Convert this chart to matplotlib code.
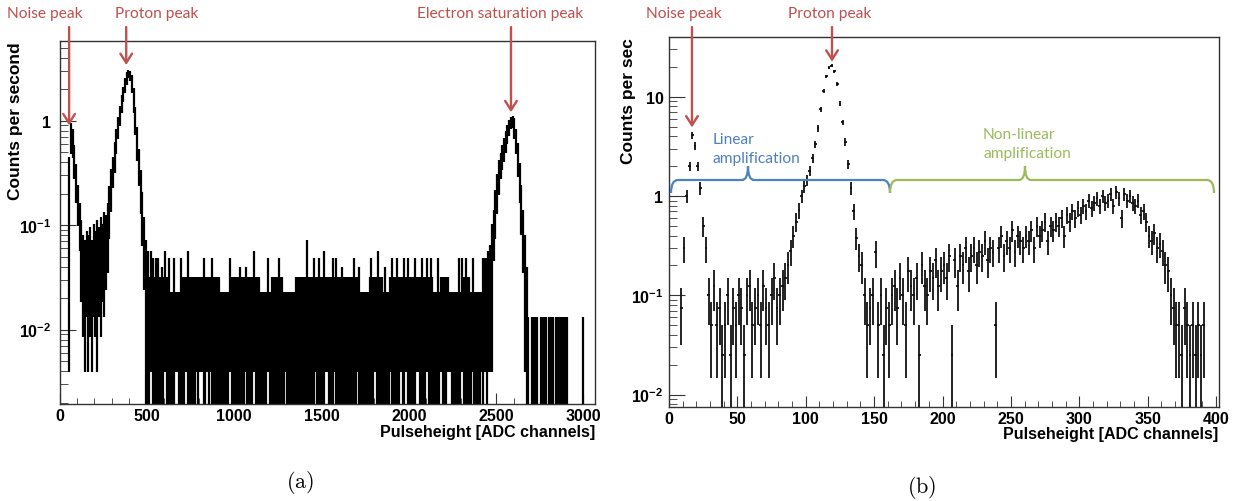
import numpy as np
import matplotlib
matplotlib.use('Agg')
import matplotlib.pyplot as plt
from matplotlib.path import Path
from matplotlib.patches import PathPatch
from matplotlib.ticker import MultipleLocator, LogLocator, FuncFormatter, NullFormatter

plt.rcParams['font.family'] = ['Liberation Sans', 'DejaVu Sans']
plt.rcParams['font.weight'] = 'bold'
plt.rcParams['mathtext.fontset'] = 'custom'
plt.rcParams['mathtext.rm'] = 'Liberation Sans:bold'
plt.rcParams['mathtext.it'] = 'Liberation Sans:bold'
plt.rcParams['mathtext.bf'] = 'Liberation Sans:bold'

W, H = 1243, 502

# ---------------- data ----------------
# (a) 150 s run, 10-channel columns: lowest / highest bin count in each column
a_width = 10
a_time = 150.0
a_lo = [0, 0, 0, 0, 0, 2, 80, 75, 48, 30,
        19, 12, 5, 3, 2, 4, 2, 3, 2, 4,
        3, 2, 4, 3, 5, 4, 6, 8, 15, 25,
        40, 55, 80, 110, 145, 190, 240, 290, 350, 400,
        380, 290, 190, 120, 70, 42, 24, 13, 6, 1,
        1, 1, 2, 1, 1, 1, 1, 1, 1, 1,
        2, 1, 1, 1, 1, 1, 2, 2, 1, 1,
        1, 1, 2, 1, 1, 1, 1, 1, 2, 1,
        2, 2, 1, 1, 2, 1, 2, 1, 1, 1,
        1, 1, 1, 1, 1, 1, 1, 2, 1, 1,
        1, 1, 1, 1, 1, 1, 2, 1, 1, 1,
        1, 2, 1, 1, 1, 1, 1, 1, 1, 2,
        1, 1, 1, 1, 1, 1, 1, 1, 1, 2,
        1, 1, 1, 1, 1, 1, 1, 1, 1, 1,
        1, 1, 1, 1, 1, 1, 2, 1, 1, 1,
        1, 1, 2, 2, 1, 1, 1, 2, 1, 1,
        1, 1, 1, 1, 1, 1, 1, 1, 1, 1,
        2, 1, 1, 1, 1, 1, 1, 1, 1, 1,
        2, 1, 1, 1, 1, 1, 1, 1, 1, 2,
        1, 1, 1, 1, 1, 2, 1, 1, 2, 1,
        1, 1, 1, 1, 2, 2, 1, 1, 1, 1,
        2, 1, 1, 1, 1, 1, 1, 1, 2, 1,
        1, 1, 2, 2, 1, 1, 1, 1, 1, 1,
        2, 1, 1, 1, 1, 1, 2, 1, 1, 1,
        1, 2, 1, 2, 1, 2, 2, 2, 10, 15,
        24, 35, 48, 58, 68, 82, 100, 118, 135, 140,
        110, 80, 50, 30, 16, 8, 2, 1, 1, 0,
        1, 1, 1, 1, 0, 1, 1, 1, 1, 0,
        1, 1, 1, 0, 1, 1, 1, 1, 1, 1,
        1, 0, 0, 0, 0, 0, 0, 0, 0, 1,
        0, 0, 0, 0, 0, 0, 0]
a_hi = [0, 0, 0, 0, 0, 60, 130, 115, 78, 50,
        31, 20, 13, 9, 8, 10, 9, 11, 8, 12,
        10, 13, 11, 14, 12, 16, 15, 20, 30, 45,
        60, 85, 115, 150, 195, 250, 300, 360, 420, 440,
        430, 390, 290, 190, 120, 72, 44, 26, 14, 8,
        6, 3, 6, 5, 3, 5, 5, 3, 4, 3,
        6, 3, 5, 2, 2, 5, 2, 2, 2, 5,
        3, 3, 3, 6, 3, 3, 3, 3, 3, 3,
        3, 3, 5, 3, 3, 3, 3, 5, 3, 3,
        3, 3, 2, 2, 2, 2, 2, 5, 3, 3,
        3, 3, 3, 4, 3, 3, 4, 3, 3, 3,
        3, 6, 3, 3, 3, 2, 2, 2, 2, 5,
        2, 3, 3, 3, 3, 5, 3, 3, 2, 2,
        2, 2, 2, 2, 2, 3, 3, 3, 3, 3,
        3, 8, 3, 3, 3, 5, 3, 3, 5, 3,
        3, 6, 3, 3, 3, 3, 5, 3, 5, 3,
        3, 4, 3, 3, 3, 3, 3, 3, 5, 3,
        3, 4, 2, 2, 2, 2, 2, 3, 5, 3,
        3, 3, 6, 3, 3, 2, 4, 2, 2, 3,
        5, 3, 3, 5, 3, 3, 3, 5, 3, 5,
        3, 3, 3, 5, 3, 3, 3, 5, 3, 3,
        5, 3, 5, 3, 2, 2, 5, 2, 3, 3,
        3, 3, 3, 2, 2, 2, 2, 2, 5, 2,
        5, 3, 5, 3, 3, 2, 5, 2, 2, 2,
        2, 2, 5, 5, 5, 6, 7, 12, 17, 27,
        40, 55, 65, 78, 92, 108, 125, 140, 150, 155,
        145, 115, 82, 52, 31, 17, 9, 4, 1, 0,
        1, 1, 1, 1, 0, 1, 1, 1, 1, 0,
        1, 1, 1, 0, 1, 1, 1, 1, 1, 1,
        1, 0, 0, 0, 0, 0, 0, 0, 0, 1,
        0, 0, 0, 0, 0, 0, 0]

# (b) 40 s run, 2-channel bins, counts per second
b_width = 2
b_time = 40.0
b_rate = [0, 0, 0, 0, 0.075, 0.3, 1.0, 2.0, 4.1, 3.2,
          2.0, 1.2, 0.5, 0.3, 0.1, 0.05, 0.125, 0.05, 0.075, 0.025,
          0.05, 0.1, 0.025, 0.075, 0.05, 0.1, 0.075, 0.025, 0.1, 0.125,
          0.05, 0.075, 0.1, 0.05, 0.125, 0.075, 0.05, 0.1, 0.15, 0.075,
          0.1, 0.125, 0.15, 0.2, 0.28, 0.4, 0.55, 0.72, 1.0, 1.25,
          1.45, 1.8, 2.4, 3.3, 4.8, 7.5, 11.5, 16, 19.5, 20.5,
          18, 13.5, 8.5, 5.5, 3.5, 2.1, 1.2, 0.7, 0.38, 0.25,
          0.2, 0.1, 0.05, 0.075, 0.1, 0.27, 0.05, 0.1, 0.025, 0.075,
          0.05, 0.1, 0.125, 0.075, 0.15, 0.1, 0.05, 0.175, 0.125, 0.1,
          0.15, 0.025, 0.2, 0.125, 0.1, 0.175, 0.15, 0.225, 0.125, 0.175,
          0.2, 0.15, 0.25, 0.025, 0.225, 0.125, 0.25, 0.2, 0.3, 0.175,
          0.25, 0.3, 0.2, 0.275, 0.25, 0.35, 0.225, 0.3, 0.275, 0.05,
          0.3, 0.4, 0.25, 0.35, 0.3, 0.45, 0.275, 0.4, 0.35, 0.3,
          0.4, 0.35, 0.45, 0.3, 0.5, 0.4, 0.45, 0.55, 0.35, 0.5,
          0.45, 0.55, 0.5, 0.6, 0.4, 0.65, 0.55, 0.7, 0.6, 0.75,
          0.65, 0.8, 0.7, 0.9, 0.75, 0.85, 0.95, 0.8, 1.0, 0.85,
          0.9, 1.05, 0.8, 1.1, 0.95, 0.6, 1.05, 0.9, 1.0, 0.85,
          0.8, 0.9, 0.65, 0.7, 0.55, 0.4, 0.35, 0.42, 0.3, 0.33,
          0.28, 0.2, 0.175, 0.1, 0.075, 0.05, 0.05, 0.025, 0.075, 0.05,
          0.025, 0.05, 0.025, 0.05, 0.025, 0.05, 0, 0, 0, 0]

RED = '#c0504d'
BLUE = '#4f81bd'
GREEN = '#9bbb59'


def fx(x):
    return x / W


def fy(y):
    return 1 - y / H


def log_label(v, pos):
    e = int(round(np.log10(v)))
    if e == 0:
        return '1'
    if e == 1:
        return '10'
    return r'$10^{%d}$' % e


def style_axes(ax, xmajor, xminor, ypad):
    ax.set_yscale('log')
    ax.xaxis.set_major_locator(MultipleLocator(xmajor))
    ax.xaxis.set_minor_locator(MultipleLocator(xminor))
    ax.yaxis.set_major_locator(LogLocator(base=10))
    ax.yaxis.set_minor_locator(LogLocator(base=10, subs=np.arange(2, 10)))
    ax.yaxis.set_major_formatter(FuncFormatter(log_label))
    ax.yaxis.set_minor_formatter(NullFormatter())
    ax.tick_params(which='both', direction='in', top=False, right=False,
                   labelsize=11.5, color='#333333')
    ax.tick_params(axis='x', which='major', length=8, pad=3)
    ax.tick_params(axis='x', which='minor', length=4)
    ax.tick_params(axis='y', which='major', length=11.5, pad=ypad)
    ax.tick_params(axis='y', which='minor', length=5.8)
    for s in ax.spines.values():
        s.set_color('#333333')
        s.set_linewidth(1.0)


def brace(x0, x1, xm, y, color):
    pts = [(x0, y + 13), (x0, y), (x0 + 7, y),
           (xm - 6, y), (xm, y), (xm, y - 14), (xm, y), (xm + 6, y),
           (x1 - 7, y), (x1, y), (x1, y + 13)]
    codes = [Path.MOVETO, Path.CURVE3, Path.CURVE3,
             Path.LINETO, Path.CURVE3, Path.CURVE3, Path.CURVE3, Path.CURVE3,
             Path.LINETO, Path.CURVE3, Path.CURVE3]
    path = Path([(fx(px), fy(py)) for px, py in pts], codes)
    fig.add_artist(PathPatch(path, transform=fig.transFigure, fill=False,
                             edgecolor=color, lw=1.6))


def arrow(ax, x, y):
    ax.annotate('', xy=(x, y), xycoords='data',
                xytext=(x, fy(28)), textcoords=('data', 'figure fraction'),
                arrowprops=dict(arrowstyle='->,head_length=0.55,head_width=0.35',
                                mutation_scale=12, color=RED, lw=1.7,
                                shrinkA=0, shrinkB=0))


def note(x, y, s, color, ha='center'):
    fig.text(fx(x), fy(y), s, color=color, ha=ha, va='center',
             fontsize=11.2, family='Lato', weight='normal')


fig = plt.figure(figsize=(W / 100, H / 100), dpi=100)

# ---------------- panel (a) ----------------
ax1 = fig.add_axes([fx(59.5), fy(405), (595 - 59.5) / W, (405 - 42) / H])
a_x = np.arange(len(a_hi)) * a_width + a_width / 2
lo = np.array(a_lo, float)
hi = np.array(a_hi, float)
lower = (lo - np.sqrt(lo)) / a_time
upper = (hi + np.sqrt(hi)) / a_time
lower = np.where(lower > 0, lower, 1e-4)
keep = hi > 0
ax1.vlines(a_x[keep], lower[keep], upper[keep], color='black', lw=1.6)
ax1.set_xlim(0, 3066)
ax1.set_ylim(0.00194, 5.77)
style_axes(ax1, 500, 100, 6)

# ---------------- panel (b) ----------------
ax2 = fig.add_axes([fx(669), fy(408), (1218.5 - 669) / W, (408 - 38) / H])
b_x = np.arange(len(b_rate)) * b_width + b_width / 2
r = np.array(b_rate, float)
k = r > 0
err = np.sqrt(r[k] / b_time)
err_lo = np.minimum(err, r[k] - 1e-4)
ax2.errorbar(b_x[k], r[k], xerr=b_width / 2, yerr=[err_lo, err], fmt='none',
             ecolor='#111111', elinewidth=1.3, capsize=0)
ax2.set_xlim(0, 401.8)
ax2.set_ylim(0.0075, 39.9)
style_axes(ax2, 50, 10, 4)

# axis titles (ROOT style: top / right aligned)
fig.text(fx(15.5), fy(42), 'Counts per second', rotation=90, ha='center',
         va='top', fontsize=12.5)
fig.text(fx(595), fy(433), 'Pulseheight [ADC channels]', ha='right',
         va='center', fontsize=11.5)
fig.text(fx(628), fy(38), 'Counts per sec', rotation=90, ha='center',
         va='top', fontsize=12.5)
fig.text(fx(1218.5), fy(435), 'Pulseheight [ADC channels]', ha='right',
         va='center', fontsize=11.5)

# annotations
note(44.5, 14, 'Noise peak', RED)
note(157, 14, 'Proton peak', RED)
note(500, 14, 'Electron saturation peak', RED)
arrow(ax1, 55, 0.9)
arrow(ax1, 382, 3.4)
arrow(ax1, 2585, 1.2)

note(684, 14, 'Noise peak', RED)
note(830, 14, 'Proton peak', RED)
arrow(ax2, 16.8, 4.9)
arrow(ax2, 119.2, 22.5)

brace(671, 890, 748, 181, BLUE)
brace(890, 1214, 1025, 181, GREEN)
note(712.7, 140, 'Linear', BLUE, ha='left')
note(712.7, 159, 'amplification', BLUE, ha='left')
note(983, 135, 'Non-linear', GREEN, ha='left')
note(983, 154, 'amplification', GREEN, ha='left')

fig.text(fx(300), fy(483), r'$\mathrm{(a)}$', math_fontfamily='cm',
         fontsize=16, ha='center', va='center')
fig.text(fx(922), fy(488), r'$\mathrm{(b)}$', math_fontfamily='cm',
         fontsize=16, ha='center', va='center')

fig.savefig('out.png', dpi=100)
